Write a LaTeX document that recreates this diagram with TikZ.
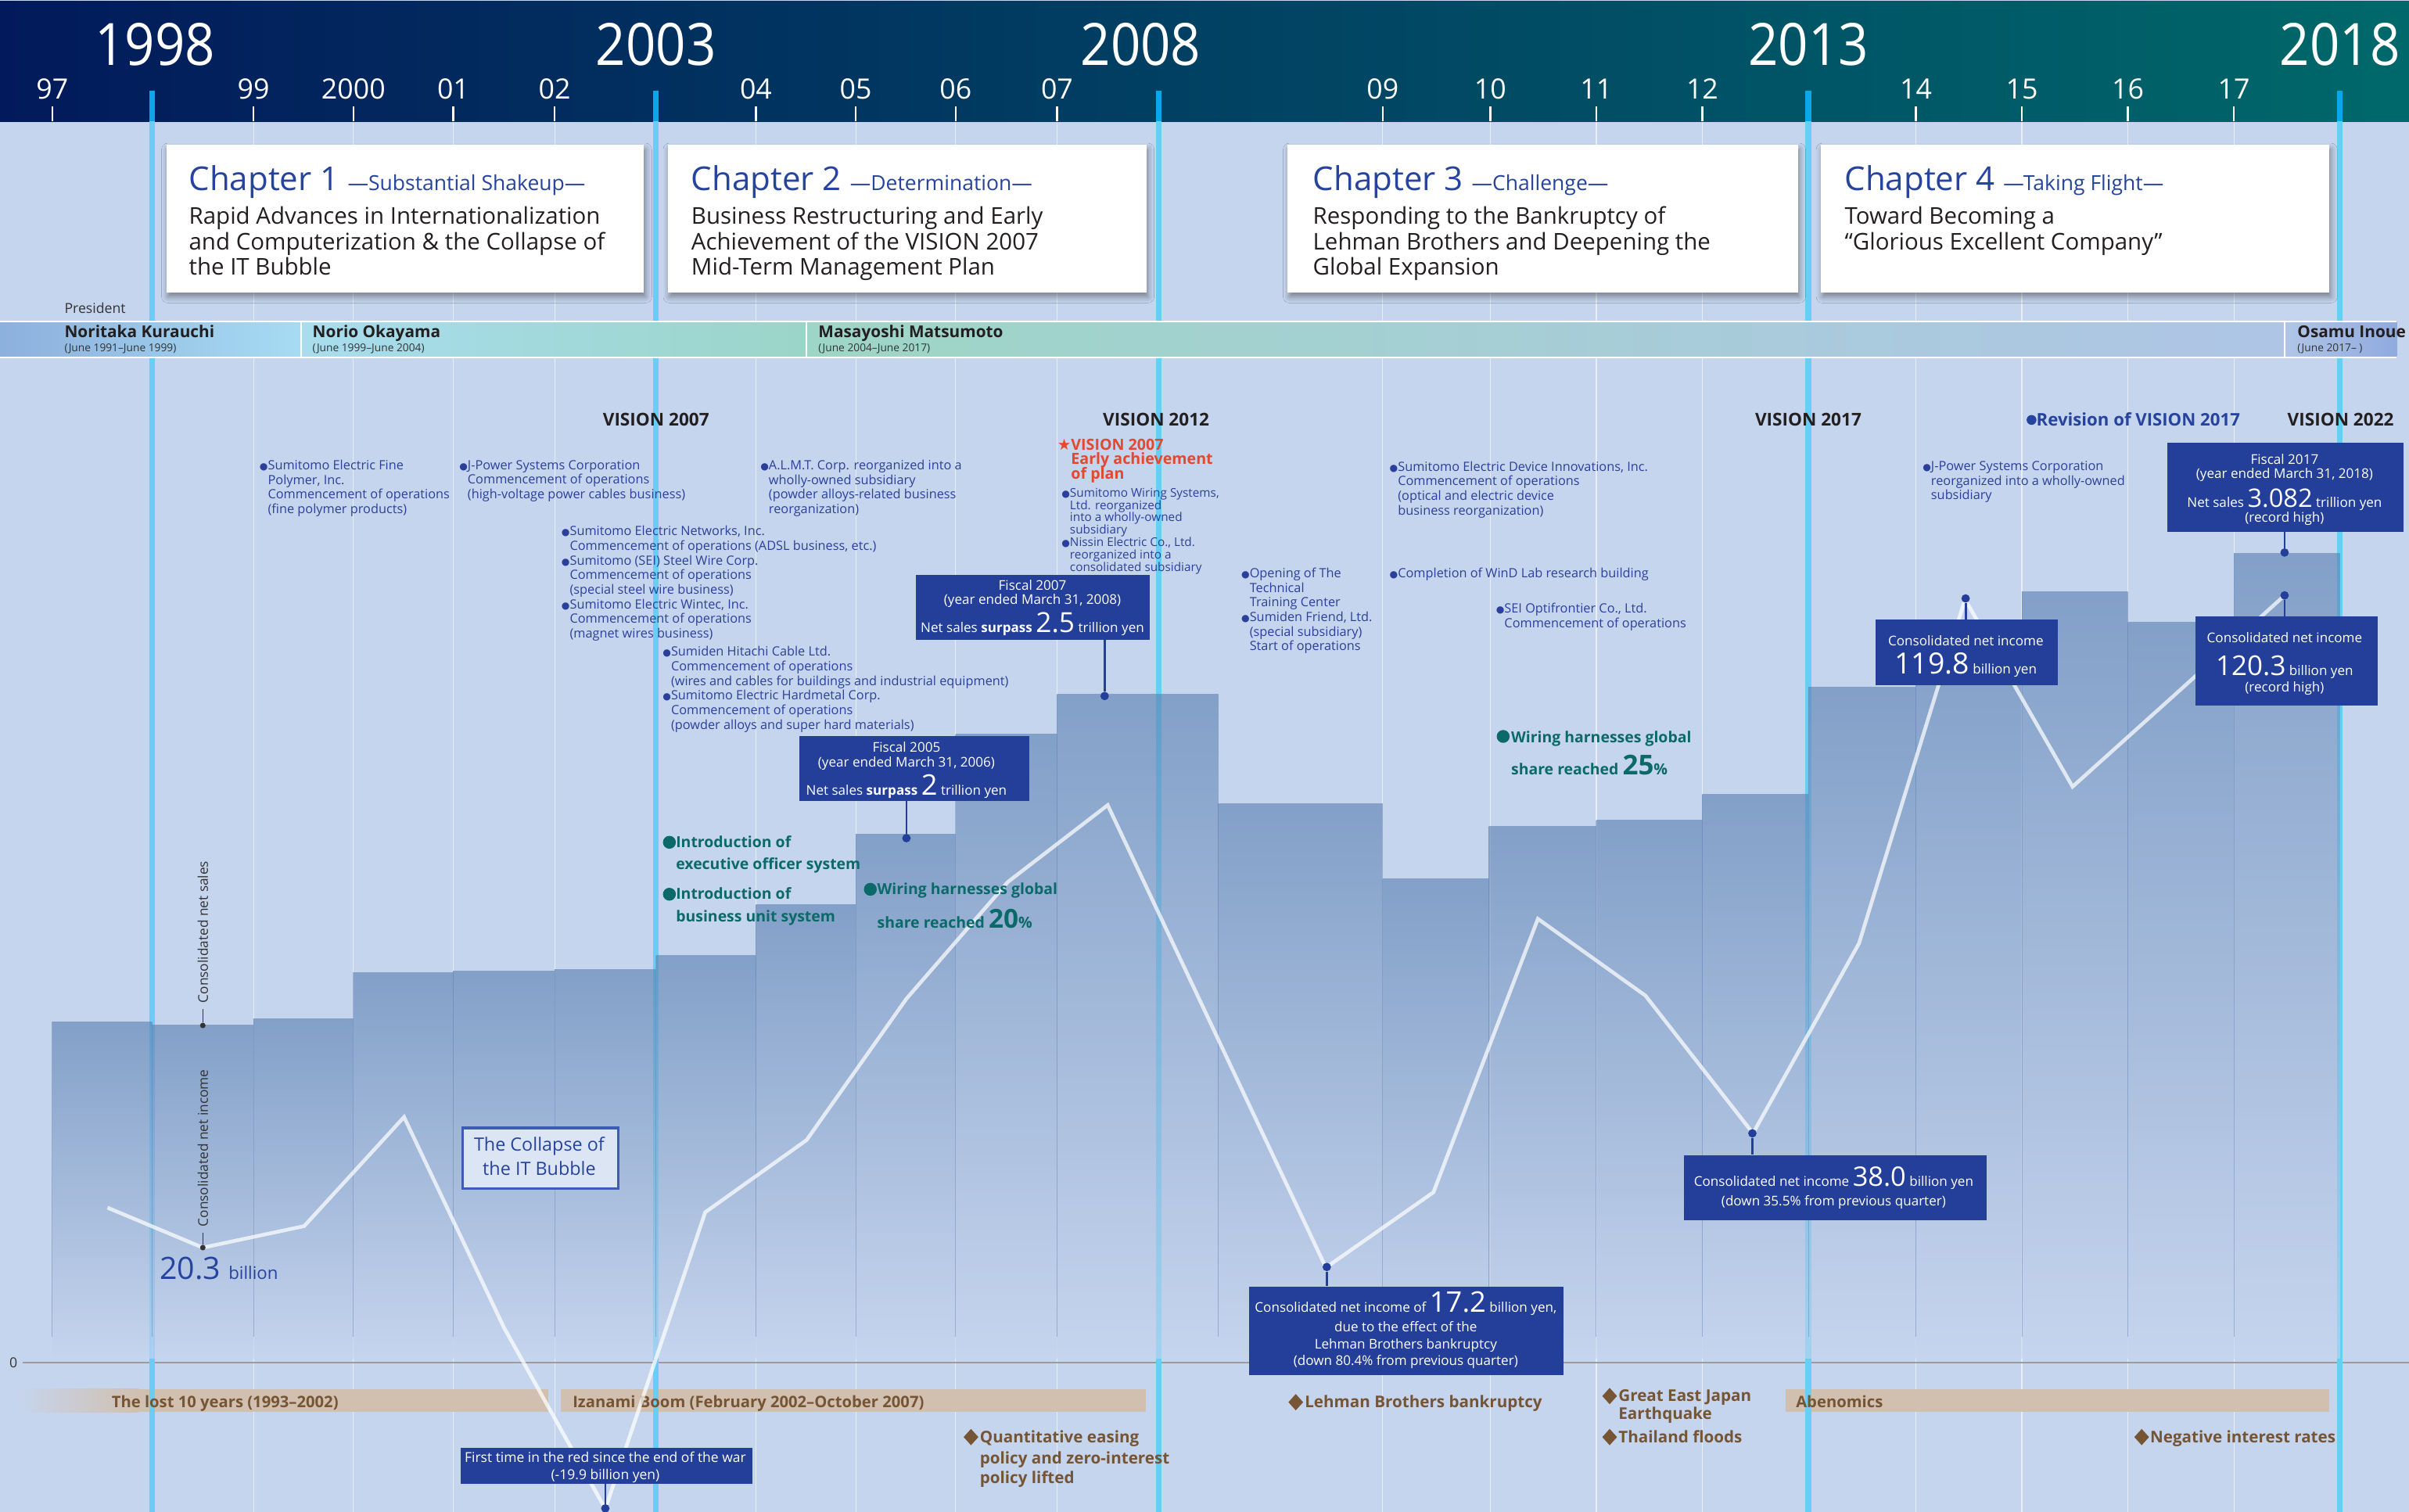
\documentclass[tikz,border=0pt]{standalone}
\usepackage{fontspec}
\setmainfont{Open Sans}
\newfontfamily\symf{DejaVu Sans}
\newfontfamily\yearf{Open Sans}[FakeStretch=0.9]
\usetikzlibrary{shadows.blur}

\definecolor{bgc}{HTML}{C6D5EE}
\definecolor{hdl}{HTML}{021A5B}
\definecolor{hdm}{HTML}{034F79}
\definecolor{hdr}{HTML}{00686A}
\definecolor{cyanh}{HTML}{0AA8E8}
\definecolor{cyanl}{HTML}{68CEF5}
\definecolor{barx}{HTML}{5A80B1}
\definecolor{baredge}{HTML}{6F8DBC}
\definecolor{navy}{HTML}{233F99}
\definecolor{evblue}{HTML}{2B409A}
\definecolor{chblue}{HTML}{26449E}
\definecolor{txtdark}{HTML}{231F20}
\definecolor{tealc}{HTML}{0B6A69}
\definecolor{brownc}{HTML}{765535}
\definecolor{tanc}{HTML}{D1C0B0}
\definecolor{redc}{HTML}{E2492E}
\definecolor{zeroc}{HTML}{9C9CA0}
\definecolor{grayt}{HTML}{333333}
\definecolor{collfill}{HTML}{DCE5F4}
\definecolor{collline}{HTML}{3D5CB5}
\definecolor{pal}{HTML}{8DB0DD}
\definecolor{par}{HTML}{A6DCF3}
\definecolor{pbl}{HTML}{A8DDEF}
\definecolor{pbr}{HTML}{9BD5C8}
\definecolor{pcl}{HTML}{9DD6C6}
\definecolor{pcm}{HTML}{A3CBD8}
\definecolor{pcr}{HTML}{AFC5E6}
\definecolor{pdl}{HTML}{B0C6E7}
\definecolor{pdr}{HTML}{8FAADE}

\newcommand{\fsz}[2]{\fontsize{#1}{#2}\selectfont}
\newcommand{\evb}{{\symf\fontsize{6.2}{6.2}\selectfont ●}}
\newcommand{\evi}{\hphantom{\evb}}
\newcommand{\stb}{{\symf ★}}
\newcommand{\diam}[2]{\fill[brownc] (#1,#2) ++(0,-5.3) -- ++(4.8,5.3) -- ++(-4.8,5.3) -- ++(-4.8,-5.3) -- cycle;}

\tikzset{
  lbl/.style={inner sep=0pt, outer sep=0pt},
  evt/.style={lbl, anchor=north west, align=left, text=evblue, font=\fsz{8.3}{9.5}},
  chap/.style={fill=white, inner sep=0pt, anchor=north west, minimum height=96pt,
     blur shadow={shadow xshift=1pt, shadow yshift=-3pt, shadow blur radius=4pt, shadow opacity=40}},
  chtitle/.style={lbl, anchor=base west, text=chblue},
  chbody/.style={lbl, anchor=north west, align=left, text=txtdark, font=\fsz{15}{16.5}},
  navybox/.style={fill=navy, inner sep=0pt, anchor=north west},
  wt/.style={lbl, anchor=base, text=white, font=\fsz{8.7}{10}},
  tealtx/.style={lbl, anchor=base west, text=tealc, font=\bfseries\fsz{9.9}{12}},
  brntx/.style={lbl, anchor=base west, text=brownc, font=\bfseries\fsz{10.5}{12}},
  vis/.style={lbl, anchor=base, text=txtdark, font=\bfseries\fsz{11.5}{13}},
  conn/.style={navy, line width=1.4pt},
  cdot/.style={circle, fill=navy, inner sep=0pt, minimum size=5.5pt},
  gdot/.style={circle, fill=grayt, inner sep=0pt, minimum size=3.6pt},
  gridln/.style={white, opacity=.6, line width=.6pt},
  tickln/.style={white, line width=1.3pt},
  barsty/.style={top color=barx, bottom color=bgc, fill opacity=.62},
  pname/.style={lbl, anchor=base west, text=txtdark, font=\bfseries\fsz{10.6}{12}},
  pdate/.style={lbl, anchor=base west, text=grayt, font=\fsz{7}{8}},
  yrs/.style={lbl, anchor=base, text=white, font=\fsz{18.2}{20}},
  bigyr/.style={lbl, anchor=base, text=white, font=\yearf\fsz{38}{40}},
}

\begin{document}
\lineskiplimit=-100pt
\begin{tikzpicture}[x=1pt,y=-1pt]
\useasboundingbox (0,0) rectangle (1568,984);
\fill[bgc] (0,0) rectangle (1568,984);

% grid lines
\foreach \gx in {165,230,295,361,492,557,622,688,900,970,1039,1108,1247,1316,1385,1454}
  \draw[gridln] (\gx,79) -- (\gx,984);

% zero line
\draw[zeroc, line width=1.2pt] (15,886.7) -- (1568,886.7);
\node[lbl, anchor=base, text=grayt, font=\fsz{9}{10}] (zero) at (8.8,890) {0};

% economy bands
\shade[left color=bgc, right color=tanc] (10,904) rectangle (90,919);
\fill[tanc] (89.5,904) rectangle (357,919);
\fill[tanc] (365,904) rectangle (746,919);
\fill[tanc] (1162,904) rectangle (1516,919);

% header
\shade[left color=hdl, middle color=hdm, right color=hdr] (0,1) rectangle (1568,79);
\foreach \yx/\yl in {34/97,165/99,230/2000,295/01,361/02,492/04,557/05,622/06,688/07,900/09,970/10,1039/11,1108/12,1247/14,1316/15,1385/16,1454/17}{
  \draw[tickln] (\yx,69) -- (\yx,79);
  \node[yrs] (yr\yl) at (\yx,64.2) {\yl};
}
\node[bigyr] (Y1998) at (101,42.4) {1998};
\node[bigyr] (Y2003) at (427,42.4) {2003};
\node[bigyr] (Y2008) at (742.5,42.4) {2008};
\node[bigyr] (Y2013) at (1177,42.4) {2013};
\node[bigyr] (Y2018) at (1523,42.4) {2018};

% cyan milestone lines
\foreach \cx in {99,427,754,1177,1523}{
  \draw[cyanh, line width=3.6pt] (\cx,59) -- (\cx,79);
  \draw[cyanl, line width=3.6pt] (\cx,79) -- (\cx,984);
}

% band labels and economic events
\node[brntx, font=\bfseries\fsz{10.3}{12}] (band1) at (72.7,916) {The lost 10 years (1993–2002)};
\node[brntx, font=\bfseries\fsz{10.3}{12}] (band2) at (372.8,916) {Izanami Boom (February 2002–October 2007)};
\node[brntx, font=\bfseries\fsz{10.3}{12}] (band3) at (1169,916) {Abenomics};
\diam{632}{935.3}
\node[brntx] (qe1) at (637.8,938.9) {Quantitative easing};
\node[brntx] (qe2) at (637.8,953) {policy and zero-interest};
\node[brntx] (qe3) at (637.8,965.7) {policy lifted};
\diam{843.4}{912.6}
\node[brntx] (lehm) at (849.3,916.2) {Lehman Brothers bankruptcy};
\diam{1047.7}{908.6}
\node[brntx] (gej1) at (1053.5,912.2) {Great East Japan};
\node[brntx] (gej2) at (1053.5,923.6) {Earthquake};
\diam{1047.7}{935.3}
\node[brntx] (thai) at (1053.5,938.9) {Thailand floods};
\diam{1394}{935.3}
\node[brntx] (negi) at (1399.5,938.9) {Negative interest rates};

% chapter boxes
\node[chap, minimum width=311pt] (ch1) at (108,94) {};
\node[chap, minimum width=311.5pt] (ch2) at (434.5,94) {};
\node[chap, minimum width=332pt] (ch3) at (838,94) {};
\node[chap, minimum width=331pt] (ch4) at (1185,94) {};
\node[chtitle] (ch1t) at (123,124) {\fsz{21.4}{24}Chapter 1 \fsz{13.5}{16}—Substantial Shakeup—};
\node[chtitle] (ch2t) at (450,124) {\fsz{21.4}{24}Chapter 2 \fsz{13.5}{16}—Determination—};
\node[chtitle] (ch3t) at (854.6,124) {\fsz{21.4}{24}Chapter 3 \fsz{13.5}{16}—Challenge—};
\node[chtitle] (ch4t) at (1200.7,124) {\fsz{21.4}{24}Chapter 4 \fsz{13.5}{16}—Taking Flight—};
\node[chbody] (ch1b) at (123,134.6) {Rapid Advances in Internationalization\\and Computerization \& the Collapse of\\the IT Bubble};
\node[chbody] (ch2b) at (450,134.6) {Business Restructuring and Early\\Achievement of the VISION 2007\\Mid-Term Management Plan};
\node[chbody] (ch3b) at (854.6,134.6) {Responding to the Bankruptcy of\\Lehman Brothers and Deepening the\\Global Expansion};
\node[chbody] (ch4b) at (1200.7,134.6) {Toward Becoming a\\“Glorious Excellent Company”};

% presidents
\node[lbl, anchor=base west, text=grayt, font=\fsz{9}{10}] (pres) at (42,203.7) {President};
\shade[left color=pal, right color=par] (0,209.5) rectangle (196,232);
\shade[left color=pbl, right color=pbr] (196,209.5) rectangle (525,232);
\shade[left color=pcl, middle color=pcm, right color=pcr] (525,209.5) rectangle (1487,232);
\shade[left color=pdl, right color=pdr] (1487,209.5) rectangle (1560,232);
\draw[white, line width=1pt] (0,209) -- (1560,209) (0,232.5) -- (1560,232.5);
\draw[white, line width=.8pt] (196,209) -- (196,232) (525,209) -- (525,232) (1487,209) -- (1487,232);
\node[pname] (p1) at (42,219.8) {Noritaka Kurauchi};
\node[pdate] (p1d) at (42,229) {(June 1991–June 1999)};
\node[pname] (p2) at (203.5,219.8) {Norio Okayama};
\node[pdate] (p2d) at (203.5,229) {(June 1999–June 2004)};
\node[pname] (p3) at (532.7,219.8) {Masayoshi Matsumoto};
\node[pdate] (p3d) at (532.7,229) {(June 2004–June 2017)};
\node[pname] (p4) at (1495.4,219.8) {Osamu Inoue};
\node[pdate] (p4d) at (1495.4,229) {(June 2017– )};

% vision labels
\node[vis] (vis07) at (427,277.4) {VISION 2007};
\node[vis] (vis12) at (752.5,277.4) {VISION 2012};
\node[vis] (vis17) at (1177,277.4) {VISION 2017};
\node[vis] (vis22) at (1523.5,277.4) {VISION 2022};
\fill[chblue] (1322.3,273.3) circle (3.2pt);
\node[lbl, anchor=base west, text=chblue, font=\bfseries\fsz{11.3}{13}] (rev17) at (1325.5,277.3) {Revision of VISION 2017};

% net sales bars
\foreach \xa/\xb/\yt in {34/99/665, 99/165/667, 165/230/663, 230/295/633, 295/361/632, 361/427/631, 427/492/622, 492/557/589, 557/622/543, 622/688/478, 688/793/452, 793/900/523, 900/969/572, 969/1039/538, 1039/1108/534, 1108/1177/517, 1177/1247/447, 1247/1316/420, 1316/1385/385, 1385/1454/405, 1454/1523/360}{
  \path[barsty] (\xa,\yt) rectangle (\xb,884);
  \draw[baredge, opacity=.55, line width=.5pt] (\xa,\yt) -- (\xa,870);
}

% net income line
\draw[white, opacity=.72, line width=2.4pt, line join=miter]
  (70,786) -- (132,812) -- (198,798) -- (263,727) -- (328,864) -- (394,982) -- (459,789)
  -- (525,742) -- (590,650) -- (656,574) -- (721,524) -- (863,825) -- (933,776) -- (1001,598)
  -- (1071,648) -- (1141,737.6) -- (1210,614) -- (1279,390) -- (1349,512) -- (1418,450) -- (1487,387.5);

% axis labels
\node[lbl, rotate=90, text=grayt, font=\fsz{8.8}{10}] (lsales) at (132,606.6) {Consolidated net sales};
\node[lbl, rotate=90, text=grayt, font=\fsz{8.8}{10}] (lincome) at (132,747.3) {Consolidated net income};
\node[gdot] (gs) at (132,667.4) {};
\node[gdot] (gi) at (132,812) {};
\draw[grayt, line width=.6pt] (lsales.west) ++(0,4) -- (gs);
\draw[grayt, line width=.6pt] (lincome.west) ++(0,4) -- (gi);
\node[lbl, anchor=base west, text=chblue] (v203) at (104,832.8) {\fsz{20}{20}20.3 \fsz{11.3}{12}billion};

% company events
\node[evt] (e1) at (169,299.4) {\evb Sumitomo Electric Fine\\\evi Polymer, Inc.\\\evi Commencement of operations\\\evi (fine polymer products)};
\node[evt] (e2) at (299,299.4) {\evb J-Power Systems Corporation\\\evi Commencement of operations\\\evi (high-voltage power cables business)};
\node[evt] (e3) at (495,299.4) {\evb A.L.M.T. Corp. reorganized into a\\\evi wholly-owned subsidiary\\\evi (powder alloys-related business\\\evi reorganization)};
\node[evt] (e4) at (365.5,342.4) {\evb Sumitomo Electric Networks, Inc.\\\evi Commencement of operations (ADSL business, etc.)\\\evb Sumitomo (SEI) Steel Wire Corp.\\\evi Commencement of operations\\\evi (special steel wire business)\\\evb Sumitomo Electric Wintec, Inc.\\\evi Commencement of operations\\\evi (magnet wires business)};
\node[evt] (e5) at (431.4,420.8) {\evb Sumiden Hitachi Cable Ltd.\\\evi Commencement of operations\\\evi (wires and cables for buildings and industrial equipment)\\\evb Sumitomo Electric Hardmetal Corp.\\\evi Commencement of operations\\\evi (powder alloys and super hard materials)};
\node[lbl, anchor=north west, align=left, text=redc, font=\bfseries\fsz{10}{9.4}] (v07red) at (688.2,285.6) {\stb VISION 2007\\\hphantom{\stb}Early achievement\\\hphantom{\stb}of plan};
\node[evt, font=\fsz{7.8}{8.1}] (e7) at (691,317.6) {\evb Sumitomo Wiring Systems,\\\evi Ltd. reorganized\\\evi into a wholly-owned\\\evi subsidiary\\\evb Nissin Electric Co., Ltd.\\\evi reorganized into a\\\evi consolidated subsidiary};
\node[evt] (e8) at (808,369.7) {\evb Opening of The\\\evi Technical\\\evi Training Center\\\evb Sumiden Friend, Ltd.\\\evi (special subsidiary)\\\evi Start of operations};
\node[evt] (e9) at (904.5,300.2) {\evb Sumitomo Electric Device Innovations, Inc.\\\evi Commencement of operations\\\evi (optical and electric device\\\evi business reorganization)};
\node[evt] (e10) at (904.5,369.7) {\evb Completion of WinD Lab research building};
\node[evt] (e11) at (973.8,392.7) {\evb SEI Optifrontier Co., Ltd.\\\evi Commencement of operations};
\node[evt] (e12) at (1251.5,300.2) {\evb J-Power Systems Corporation\\\evi reorganized into a wholly-owned\\\evi subsidiary};

% teal milestones
\fill[tealc] (435.7,548.2) circle (4.2pt);
\node[tealtx] (t1a) at (440,551.6) {Introduction of};
\node[tealtx] (t1b) at (440,566.1) {executive officer system};
\fill[tealc] (435.7,582) circle (4.2pt);
\node[tealtx] (t2a) at (440,585.4) {Introduction of};
\node[tealtx] (t2b) at (440,600) {business unit system};
\fill[tealc] (566.5,578.8) circle (4.2pt);
\node[tealtx] (t3a) at (571,582.2) {Wiring harnesses global};
\node[tealtx] (t3b) at (571,604.2) {share reached {\fsz{17}{17}20}{\fsz{10}{10}\%}};
\fill[tealc] (978.4,479.3) circle (4.2pt);
\node[tealtx] (t4a) at (983.6,483.4) {Wiring harnesses global};
\node[tealtx] (t4b) at (983.6,504) {share reached {\fsz{17.8}{17}25}{\fsz{10}{10}\%}};

% IT bubble box
\node[fill=collfill, draw=collline, line width=1.6pt, inner sep=0pt, minimum width=101.3pt, minimum height=39.3pt, anchor=north west] (coll) at (300.4,733.3) {};
\node[lbl, anchor=base, text=chblue, font=\fsz{11.9}{14}] (coll1) at (351,749.2) {The Collapse of};
\node[lbl, anchor=base, text=chblue, font=\fsz{11.9}{14}] (coll2) at (351,765) {the IT Bubble};

% data callouts
\node[cdot] (d07) at (719,453) {};
\node[cdot] (d05) at (590,545.5) {};
\node[cdot] (d17) at (1487,359.6) {};
\node[cdot] (d119) at (1279.4,389.5) {};
\node[cdot] (d120) at (1487,387.5) {};
\node[cdot] (d38) at (1140.6,737.6) {};
\node[cdot] (d172) at (863.6,824.6) {};
\node[cdot] (dred) at (394,981.7) {};

\node[navybox, minimum width=152pt, minimum height=42pt] (b07) at (596,374) {};
\node[wt] (b07a) at (672,383.9) {Fiscal 2007};
\node[wt] (b07b) at (672,393.5) {(year ended March 31, 2008)};
\node[wt] (b07c) at (672,411.4) {Net sales \textbf{surpass} {\fsz{18}{18}2.5} trillion yen};

\node[navybox, minimum width=149.6pt, minimum height=42pt] (b05) at (520,479) {};
\node[wt] (b05a) at (590,489.5) {Fiscal 2005};
\node[wt] (b05b) at (590,499.3) {(year ended March 31, 2006)};
\node[wt] (b05c) at (590,517.6) {Net sales \textbf{surpass} {\fsz{18.5}{18}2} trillion yen};

\node[navybox, minimum width=153.5pt, minimum height=58pt] (b17) at (1410.5,288) {};
\node[wt] (b17a) at (1487,301.9) {Fiscal 2017};
\node[wt] (b17b) at (1487,311.5) {(year ended March 31, 2018)};
\node[wt] (b17c) at (1487,330) {Net sales {\fsz{16.6}{16}3.082} trillion yen};
\node[wt] (b17d) at (1487,340) {(record high)};

\node[navybox, minimum width=118.5pt, minimum height=43pt] (b119) at (1220.5,403) {};
\node[wt] (b119a) at (1279.5,420) {Consolidated net income};
\node[wt] (b119b) at (1279.5,438.5) {{\fsz{19}{19}119.8} billion yen};

\node[navybox, minimum width=118.8pt, minimum height=58pt] (b120) at (1428.7,401) {};
\node[wt] (b120a) at (1487,418) {Consolidated net income};
\node[wt] (b120b) at (1487,439.6) {{\fsz{17.8}{18}120.3} billion yen};
\node[wt] (b120c) at (1487,450.5) {(record high)};

\node[navybox, minimum width=197.2pt, minimum height=42.5pt] (b38) at (1095.8,751.5) {};
\node[wt] (b38a) at (1193.5,772) {Consolidated net income {\fsz{17.5}{18}38.0} billion yen};
\node[wt] (b38b) at (1193.5,784.6) {(down 35.5\% from previous quarter)};

\node[navybox, minimum width=204.3pt, minimum height=57.8pt] (b172) at (813,837) {};
\node[wt] (b172a) at (915,854) {Consolidated net income of {\fsz{18.5}{18}17.2} billion yen,};
\node[wt] (b172b) at (915,866.7) {due to the effect of the};
\node[wt] (b172c) at (915,877.9) {Lehman Brothers bankruptcy};
\node[wt] (b172d) at (915,888.6) {(down 80.4\% from previous quarter)};

\node[navybox, minimum width=189.9pt, minimum height=23.2pt] (bred) at (299.4,942.3) {};
\node[wt, font=\fsz{8.9}{10}] (breda) at (394,951.8) {First time in the red since the end of the war};
\node[wt, font=\fsz{8.9}{10}] (bredb) at (394,962.9) {(-19.9 billion yen)};

\draw[conn] (b07.south -| d07) -- (d07);
\draw[conn] (b05.south -| d05) -- (d05);
\draw[conn] (b17.south -| d17) -- (d17);
\draw[conn] (b119.north -| d119) -- (d119);
\draw[conn] (b120.north -| d120) -- (d120);
\draw[conn] (b38.north -| d38) -- (d38);
\draw[conn] (b172.north -| d172) -- (d172);
\draw[conn] (bred.south -| dred) -- (dred);
\end{tikzpicture}
\end{document}
